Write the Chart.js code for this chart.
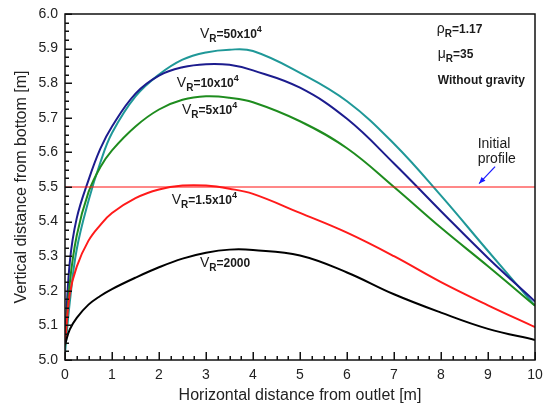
<!DOCTYPE html>
<html>
<head>
<meta charset="utf-8">
<script src="https://cdn.jsdelivr.net/npm/chart.js@4/dist/chart.umd.min.js"></script>
<style>
  html, body { margin: 0; padding: 0; background: #fff; }
  #wrap { width: 545px; height: 410px; }
</style>
</head>
<body>
<div id="wrap"><canvas id="profile-chart"></canvas></div>
<script>
// horizontal positions shared by every curve [m]
const xPos = [0, 0.1, 0.25, 0.5, 0.75, 1, 1.5, 2, 2.5, 3, 3.5, 4, 5, 6, 7, 8, 9, 10];

// vertical distance from bottom for each velocity ratio [m]
const vr2000  = [5.045, 5.088, 5.122, 5.16, 5.185, 5.205, 5.238, 5.268, 5.293, 5.31, 5.319, 5.318, 5.302, 5.253, 5.19, 5.137, 5.09, 5.058];
const vr15e3  = [5.045, 5.19, 5.27, 5.345, 5.39, 5.425, 5.468, 5.493, 5.504, 5.504, 5.495, 5.48, 5.425, 5.368, 5.3, 5.225, 5.158, 5.095];
const vr5e4   = [5.04, 5.22, 5.36, 5.485, 5.557, 5.606, 5.675, 5.724, 5.752, 5.762, 5.758, 5.745, 5.69, 5.612, 5.5, 5.382, 5.271, 5.157];
const vr10e4  = [5.05, 5.28, 5.41, 5.52, 5.61, 5.675, 5.77, 5.822, 5.846, 5.855, 5.853, 5.837, 5.787, 5.697, 5.568, 5.43, 5.295, 5.169];
const vr50e4  = [5.02, 5.165, 5.32, 5.46, 5.57, 5.656, 5.762, 5.825, 5.868, 5.889, 5.897, 5.893, 5.83, 5.748, 5.625, 5.475, 5.315, 5.157];

// initial (flat) profile
const initialX = [0, 10];
const initialY = [5.5, 5.5];

const xTicks = [0, 1, 2, 3, 4, 5, 6, 7, 8, 9, 10];
const yTicks = [5.0, 5.1, 5.2, 5.3, 5.4, 5.5, 5.6, 5.7, 5.8, 5.9, 6.0];

const FONT = 'Arial, "Liberation Sans", sans-serif';

function toPoints(xs, ys) {
    return xs.map((x, i) => ({x: x, y: ys[i]}));
}

function curve(ys, color) {
    return {
        data: toPoints(xPos, ys),
        borderColor: color,
        borderWidth: 2,
        pointRadius: 0,
        tension: 0.4,
        fill: false
    };
}

//draws a piece of text made of several runs (sub/superscripts)
function drawRich(ctx, x, y, parts) {
    let cx = x;
    parts.forEach(p => {
        ctx.font = p.font;
        ctx.fillText(p.t, cx, y + (p.dy || 0));
        cx += ctx.measureText(p.t).width;
    });
}

function vrLabel(power, exp) {
    const parts = [
        {t: 'V', font: '14px ' + FONT},
        {t: 'R', font: 'bold 10px ' + FONT, dy: 4},
        {t: '=' + power, font: 'bold 12px ' + FONT}
    ];
    if (exp) parts.push({t: exp, font: 'bold 9px ' + FONT, dy: -6});
    return parts;
}

// curve labels, placed in data coordinates
const notes = [
    {x: 2.87, y: 5.931, parts: vrLabel('50x10', '4')},
    {x: 2.38, y: 5.79,  parts: vrLabel('10x10', '4')},
    {x: 2.49, y: 5.712, parts: vrLabel('5x10', '4')},
    {x: 2.27, y: 5.451, parts: vrLabel('1.5x10', '4')},
    {x: 2.87, y: 5.27,  parts: vrLabel('2000')},
    {x: 7.91, y: 5.946, parts: [{t: 'ρ', font: '14px ' + FONT}, {t: 'R', font: 'bold 10px ' + FONT, dy: 4}, {t: '=1.17', font: 'bold 12px ' + FONT}]},
    {x: 7.93, y: 5.874, parts: [{t: 'μ', font: '14px ' + FONT}, {t: 'R', font: 'bold 10px ' + FONT, dy: 4}, {t: '=35', font: 'bold 12px ' + FONT}]},
    {x: 7.93, y: 5.799, parts: [{t: 'Without gravity', font: 'bold 12px ' + FONT}]},
    {x: 8.78, y: 5.613, parts: [{t: 'Initial', font: '14px ' + FONT}]},
    {x: 8.78, y: 5.568, parts: [{t: 'profile', font: '14px ' + FONT}]}
];

const framePlugin = {
    id: 'frame',
    afterDraw(chart) {
        const c = chart.ctx;
        const xs = chart.scales.x, ys = chart.scales.y;
        const area = chart.chartArea;

        c.save();
        //box
        c.strokeStyle = '#111111';
        c.lineWidth = 1.5;
        c.strokeRect(area.left, area.top, area.right - area.left, area.bottom - area.top);

        //inward ticks: majors on whole values, 3 minors in between
        c.fillStyle = '#111111';
        for (let i = 0; i <= 40; i++) {
            const px = Math.round(xs.getPixelForValue(i * 0.25));
            const len = (i % 4 === 0) ? 8 : 4;
            c.fillRect(px - 0.5, area.bottom - len, 1.5, len);
        }
        for (let i = 0; i <= 40; i++) {
            const py = Math.round(ys.getPixelForValue(5 + i * 0.025));
            const len = (i % 4 === 0) ? 7 : 4;
            c.fillRect(area.left, py - 0.5, len, 1.5);
        }

        //texts
        c.fillStyle = '#1a1a1a';
        c.textBaseline = 'alphabetic';
        c.textAlign = 'left';
        notes.forEach(n => drawRich(c, xs.getPixelForValue(n.x), ys.getPixelForValue(n.y), n.parts));

        //arrow to the initial profile
        const x1 = xs.getPixelForValue(9.15), y1 = ys.getPixelForValue(5.559);
        const x2 = xs.getPixelForValue(8.81), y2 = ys.getPixelForValue(5.51);
        c.strokeStyle = '#1a1aff';
        c.fillStyle = '#1a1aff';
        c.lineWidth = 1.2;
        c.beginPath();
        c.moveTo(x1, y1);
        c.lineTo(x2, y2);
        c.stroke();
        const ang = Math.atan2(y2 - y1, x2 - x1);
        c.beginPath();
        c.moveTo(x2, y2);
        c.lineTo(x2 - 7 * Math.cos(ang - 0.4), y2 - 7 * Math.sin(ang - 0.4));
        c.lineTo(x2 - 7 * Math.cos(ang + 0.4), y2 - 7 * Math.sin(ang + 0.4));
        c.closePath();
        c.fill();
        c.restore();
    }
};

const ctx = document.querySelector('#profile-chart').getContext('2d');
const chart = new Chart(ctx, {
    type: 'line',
    data: {
        datasets: [
            {
                data: toPoints(initialX, initialY),
                borderColor: '#ff1010',
                borderWidth: 1,
                pointRadius: 0,
                tension: 0,
                fill: false
            },
            curve(vr2000, '#000000'),
            curve(vr15e3, '#ff1a1a'),
            curve(vr5e4, '#1e8c1e'),
            curve(vr10e4, '#1c1c8e'),
            curve(vr50e4, '#1f9898')
        ]
    },
    options: {
        responsive: true,
        maintainAspectRatio: false,
        animation: false,
        layout: {padding: {top: 14, right: 10, left: 0, bottom: 0}},
        plugins: {legend: {display: false}, tooltip: {enabled: false}},
        scales: {
            x: {
                type: 'linear',
                min: 0,
                max: 10,
                afterFit: s => { s.height = 50; s.paddingRight = 0; s.paddingLeft = 0; },
                afterBuildTicks: s => { s.ticks = xTicks.map(v => ({value: v})); },
                grid: {display: false, drawTicks: false},
                border: {display: false},
                ticks: {
                    padding: 7,
                    color: '#222',
                    font: {family: FONT, size: 14},
                    callback: v => String(v)
                },
                title: {
                    display: true,
                    text: 'Horizontal distance from outlet [m]',
                    color: '#222',
                    font: {family: FONT, size: 16},
                    padding: {top: 0, bottom: 5}
                }
            },
            y: {
                min: 5,
                max: 6,
                afterFit: s => { s.width = 65; s.paddingTop = 0; s.paddingBottom = 0; },
                afterBuildTicks: s => { s.ticks = yTicks.map(v => ({value: v})); },
                grid: {display: false, drawTicks: false},
                border: {display: false},
                ticks: {
                    padding: 7,
                    color: '#222',
                    font: {family: FONT, size: 14},
                    callback: v => Number(v).toFixed(1)
                },
                title: {
                    display: true,
                    text: 'Vertical distance from bottom [m]',
                    color: '#222',
                    font: {family: FONT, size: 16},
                    padding: {top: 12, bottom: 0}
                }
            }
        }
    },
    plugins: [framePlugin]
});
</script>
</body>
</html>
